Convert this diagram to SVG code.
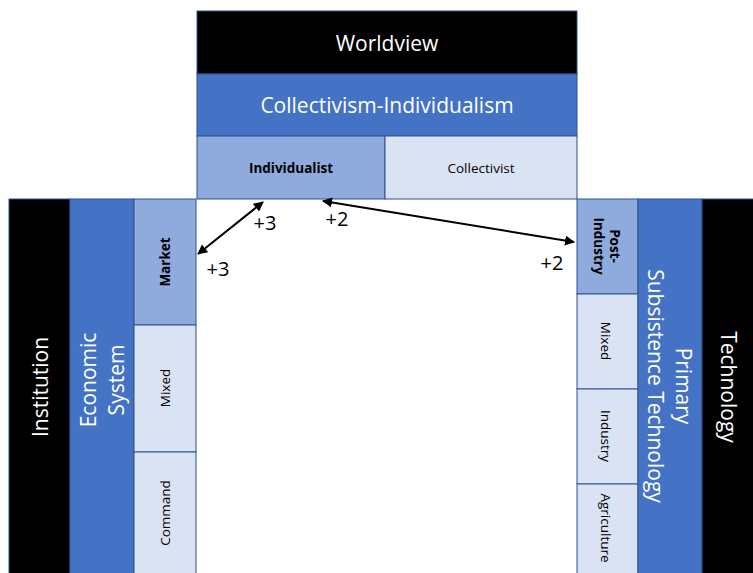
<svg xmlns="http://www.w3.org/2000/svg" width="753" height="573" viewBox="0 0 753 573">
<style>
.b{stroke:#2F528F;stroke-width:1}
.blk{fill:#000}
.mid{fill:#4472C4}
.lt{fill:#8FAADC}
.vl{fill:#DAE3F3}
text{font-family:"Open Sans","Liberation Sans",sans-serif;text-anchor:middle;dominant-baseline:central}
.w{fill:#fff;font-size:21px}
.s{fill:#000;font-size:13.5px}
.sb{fill:#000;font-size:13.5px;font-weight:bold}
.n{fill:#000;font-size:20px}
.c{stroke:#000;stroke-width:2;fill:none;marker-start:url(#a);marker-end:url(#a)}
</style>
<defs>
<marker id="a" viewBox="0 0 10 10" refX="9" refY="5" markerWidth="5" markerHeight="5" orient="auto-start-reverse" markerUnits="strokeWidth">
<path d="M0,0 L10,5 L0,10 z" fill="#000"/>
</marker>
</defs>
<rect width="753" height="573" fill="#fff"/>
<g id="worldview"><rect class="b blk" x="197" y="11" width="380" height="63"/><text class="w" x="387" y="43">Worldview</text></g>
<g id="collind"><rect class="b mid" x="197" y="74" width="380" height="62"/><text class="w" x="387" y="105">Collectivism-Individualism</text></g>
<g id="individualist"><rect class="b lt" x="197" y="136" width="188" height="63"/><text class="sb" x="291" y="168">Individualist</text></g>
<g id="collectivist"><rect class="b vl" x="385" y="136" width="192" height="63"/><text class="s" x="481" y="168">Collectivist</text></g>
<g id="institution"><rect class="b blk" x="9" y="199" width="61" height="380"/><text class="w" transform="translate(40,387) rotate(-90)">Institution</text></g>
<g id="economic"><rect class="b mid" x="70" y="199" width="64" height="380"/><text class="w" transform="translate(102,380) rotate(-90)"><tspan x="0" y="-14">Economic</tspan><tspan x="0" y="14">System</tspan></text></g>
<g id="market"><rect class="b lt" x="134" y="199" width="62" height="126"/><text class="sb" transform="translate(165,262) rotate(-90)">Market</text></g>
<g id="mixed-l"><rect class="b vl" x="134" y="325" width="62" height="127"/><text class="s" transform="translate(165,388) rotate(-90)">Mixed</text></g>
<g id="command"><rect class="b vl" x="134" y="452" width="62" height="127"/><text class="s" transform="translate(165,513) rotate(-90)">Command</text></g>
<g id="postindustry"><rect class="b lt" x="577" y="199" width="61" height="95"/><text class="sb" transform="translate(607,246) rotate(90)"><tspan x="0" y="-8">Post-</tspan><tspan x="0" y="8">Industry</tspan></text></g>
<g id="mixed-r"><rect class="b vl" x="577" y="294" width="61" height="95"/><text class="s" transform="translate(606,341) rotate(90)">Mixed</text></g>
<g id="industry"><rect class="b vl" x="577" y="389" width="61" height="95"/><text class="s" transform="translate(606,436) rotate(90)">Industry</text></g>
<g id="agriculture"><rect class="b vl" x="577" y="484" width="61" height="95"/><text class="s" transform="translate(606,528) rotate(90)">Agriculture</text></g>
<g id="primary"><rect class="b mid" x="638" y="199" width="64" height="380"/><text class="w" transform="translate(670,386) rotate(90)"><tspan x="0" y="-14">Primary</tspan><tspan x="0" y="14">Subsistence Technology</tspan></text></g>
<g id="technology"><rect class="b blk" x="702" y="199" width="55" height="380"/><text class="w" transform="translate(729,387) rotate(90)">Technology</text></g>
<g id="connectors">
<line class="c" x1="198" y1="254" x2="263" y2="202"/>
<line class="c" x1="323" y1="201" x2="574" y2="242"/>
<text class="n" x="265" y="222">+3</text>
<text class="n" x="218" y="268">+3</text>
<text class="n" x="337" y="218">+2</text>
<text class="n" x="552" y="262">+2</text>
</g>
</svg>
